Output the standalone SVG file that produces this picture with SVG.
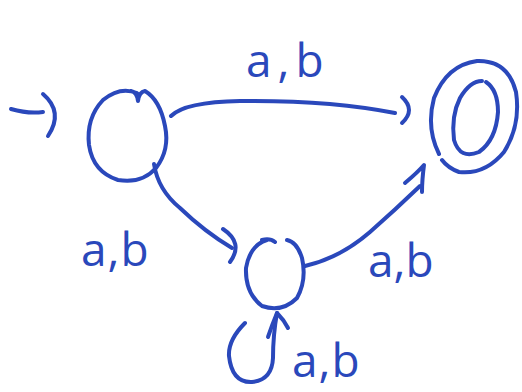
<svg xmlns="http://www.w3.org/2000/svg" width="522" height="392" viewBox="0 0 522 392">
<style>
.s{fill:none;stroke:#2a48bb;stroke-width:4;stroke-linecap:round;stroke-linejoin:round}
.t{font-family:"Open Sans","Liberation Sans",sans-serif;font-size:46px;fill:#2a48bb}
</style>
<rect width="522" height="392" fill="#ffffff"/>
<g id="connectors">
<g id="start-arrow">
<path class="s" d="M11,109 Q28,114 43,112"/>
<path class="s" d="M43,94 Q64,112 48,136"/>
</g>
<g id="edge-q0-q2">
<path class="s" d="M171,116 Q185,102 240,101 Q330,100 395,113"/>
<path class="s" d="M402,97 Q416,110 402,123"/>
<text class="t" x="246" y="77" letter-spacing="6">a,b</text>
</g>
<g id="edge-q0-q1">
<path class="s" d="M154,164 Q158,190 180,208 Q205,232 232,248"/>
<path class="s" d="M223,229 Q244,243 230,262"/>
<text class="t" x="81" y="266" letter-spacing="1">a,b</text>
</g>
<g id="edge-q1-q2">
<path class="s" d="M305,266 Q340,258 370,232 Q395,210 420,186"/>
<path class="s" d="M405,183 Q418,172 424,165 Q422,180 422,192"/>
<text class="t" x="368" y="277" letter-spacing="0">a,b</text>
</g>
<g id="edge-q1-loop">
<path class="s" d="M245,323 Q228,340 229,356 Q232,383 252,382 Q272,380 273,358 Q273,335 277,313"/>
<path class="s" d="M268,337 Q272,325 277,313 Q284,320 288,328"/>
<text class="t" x="292" y="377" letter-spacing="1">a,b</text>
</g>
</g>
<g id="q0">
<path class="s" d="M137,93 Q120,86 103,100 Q86,118 89,145 Q93,172 118,180 Q142,184 156,168 Q170,150 165,126 Q160,100 145,91 Q139,92 138,101 Q137,92 131,91"/>
</g>
<g id="q1">
<path class="s" d="M267,240 Q250,245 246,268 Q245,293 262,306 Q282,313 297,298 Q307,280 302,258 Q297,242 287,240 M262,240 Q270,238 275,242"/>
</g>
<g id="q2">
<path class="s" d="M439,154 Q426,128 434,98 Q447,65 477,61 Q508,60 516,92 Q521,125 504,152 Q485,175 459,172 Q448,168 442,160"/>
<path class="s" d="M486,82 Q498,90 498,112 Q496,140 479,152 Q460,160 454,140 Q451,116 460,98 Q470,81 482,81"/>
</g>
</svg>
